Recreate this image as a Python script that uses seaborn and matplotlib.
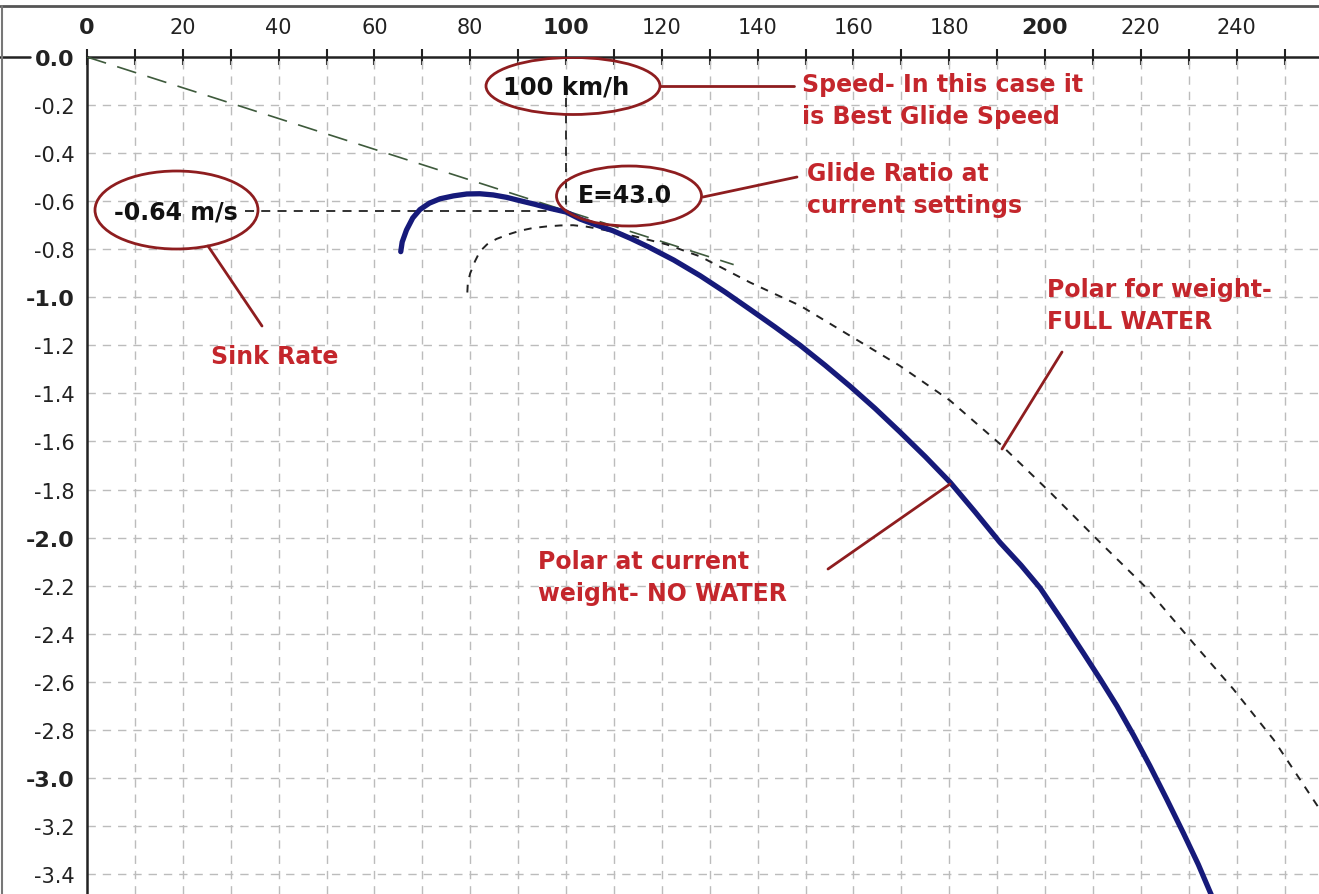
import matplotlib
matplotlib.use("Agg")
import matplotlib.pyplot as plt
from matplotlib.patches import Ellipse
from matplotlib.lines import Line2D
import seaborn as sns

# ---------------- data ----------------
no_water_speed = [65.5, 65.8, 66.7, 68.0, 69.5, 71.5, 73.7, 76.5, 79.3, 82.0, 84.8, 87.6,
                  90.4, 93.5, 96.7, 100.0, 102.9, 106.0, 109.8, 113.5, 117.2, 122.5, 128.0,
                  133.2, 138.4, 143.6, 148.9, 154.1, 159.3, 164.5, 169.7, 175.0, 180.2,
                  185.4, 190.6, 195.0, 199.0, 203.5, 208.0, 211.5, 215.0, 218.5, 221.9,
                  225.4, 228.9, 232.0, 235.0]
no_water_sink = [-0.81, -0.77, -0.72, -0.67, -0.635, -0.608, -0.59, -0.578, -0.57, -0.569,
                 -0.574, -0.584, -0.598, -0.613, -0.63, -0.645, -0.674, -0.697, -0.723,
                 -0.755, -0.79, -0.845, -0.91, -0.978, -1.05, -1.123, -1.20, -1.283, -1.37,
                 -1.462, -1.56, -1.663, -1.77, -1.893, -2.02, -2.115, -2.21, -2.343, -2.48,
                 -2.588, -2.70, -2.823, -2.95, -3.088, -3.23, -3.36, -3.50]

full_water_speed = [79.4, 79.5, 80.0, 81.0, 82.0, 83.5, 85.5, 88.0, 90.4, 93.0, 96.0, 98.8,
                    101.5, 104.3, 107.1, 110.5, 114.1, 121.0, 128.0, 138.4, 148.9, 159.3,
                    169.7, 180.2, 190.6, 201.0, 211.5, 221.2, 231.0, 239.3, 247.7, 258.0]
full_water_sink = [-0.98, -0.94, -0.90, -0.85, -0.81, -0.78, -0.757, -0.738, -0.723, -0.712,
                   -0.705, -0.701, -0.70, -0.706, -0.716, -0.73, -0.745, -0.78, -0.83, -0.938,
                   -1.035, -1.16, -1.285, -1.43, -1.61, -1.81, -2.02, -2.21, -2.44, -2.63,
                   -2.84, -3.15]

glide_line_speed = [0.0, 135.0]
glide_line_sink = [0.0, -0.864]

best_speed = 100.0
best_sink = -0.64
glide_ratio = 43.0

x_ticks = list(range(0, 261, 10))
x_labels = [str(v) if (v % 20 == 0 and v < 260) else "" for v in x_ticks]
y_ticks = [round(-0.2 * i, 1) for i in range(0, 18)]
y_labels = ["0.0"] + ["%.1f" % v for v in y_ticks[1:]]

# ---------------- style ----------------
sns.set_style("white")
plt.rcParams['font.family'] = ['DejaVu Sans']

W, H = 1319, 895
fig = plt.figure(figsize=(W / 100, H / 100), dpi=100)
ax = fig.add_axes([87 / W, 0, (W - 87) / W, (H - 58) / H])

RED_TXT = '#c4262c'
RED_LN = '#8e1d1f'

# curves
sns.lineplot(x=glide_line_speed, y=glide_line_sink, ax=ax, color='#3e5a3c', lw=1.2,
             sort=False, estimator=None, zorder=3)
ax.lines[-1].set_dashes([12, 7])
sns.lineplot(x=full_water_speed, y=full_water_sink, ax=ax, color='#222222', lw=1.4,
             sort=False, estimator=None, zorder=3)
ax.lines[-1].set_dashes([4, 4])
sns.lineplot(x=no_water_speed, y=no_water_sink, ax=ax, color='#161a7a', lw=3.8,
             sort=False, estimator=None, zorder=4)
ax.lines[-1].set_solid_joinstyle('round')
ax.lines[-1].set_solid_capstyle('round')

# crosshair at best glide
ax.plot([33, best_speed], [best_sink, best_sink], color='#222222', lw=1.3,
        dashes=[5, 4], zorder=3)
ax.plot([best_speed, best_speed], [-0.17, best_sink], color='#222222', lw=1.3,
        dashes=[5, 4], zorder=3)

# grid
for v in x_ticks[1:]:
    ax.axvline(v, color='#bcbcbc', lw=1.0, dashes=[6, 5], zorder=1)
for v in y_ticks[1:]:
    ax.axhline(v, color='#bcbcbc', lw=1.0, dashes=[6, 5], zorder=1)

# axes / ticks
ax.xaxis.tick_top()
ax.set_xticks(x_ticks)
ax.set_xticklabels(x_labels)
ax.tick_params(axis='x', direction='inout', length=11, width=1.5, pad=9,
               labelsize=15, colors='#222222')
for lab, v in zip(ax.get_xticklabels(), x_ticks):
    if v in (0, 100, 200):
        lab.set_fontweight('bold')
        lab.set_fontsize(16)

ax.set_yticks(y_ticks)
ax.set_yticklabels(y_labels)
ax.set_yticks([round(-0.1 - 0.2 * i, 1) for i in range(0, 18)], minor=True)
ax.tick_params(axis='y', which='major', direction='out', length=8, width=1.5, pad=1,
               labelsize=15, colors='#222222')
ax.tick_params(axis='y', which='minor', direction='out', length=6, width=1.5)
for lab, v in zip(ax.get_yticklabels(), y_ticks):
    if abs(v - round(v)) < 1e-9:
        lab.set_fontweight('bold')
        lab.set_fontsize(16)

# limits after ticks (set_xticks would otherwise widen them)
ax.set_xlim(0, 257.2)
ax.set_ylim(-3.483, 0)

for s in ('right', 'bottom'):
    ax.spines[s].set_visible(False)
for s in ('top', 'left'):
    ax.spines[s].set_color('#222222')
    ax.spines[s].set_linewidth(1.8)
ax.set_xlabel("")
ax.set_ylabel("")

# figure decorations (window frame + axis line extension)
fig.add_artist(Line2D([0, 30 / W], [1 - 58 / H] * 2, color='#222222', lw=1.8))
fig.add_artist(Line2D([0, 1], [1 - 7 / H] * 2, color='#555555', lw=2.0))
fig.add_artist(Line2D([2 / W, 2 / W], [0, 1 - 7 / H], color='#777777', lw=1.5))

# ---------------- annotations ----------------
def px2d(px, py):
    return (px - 87) / 4.79, -(py - 58) / 240.3

# ellipses
for (cx, cy, w, h) in [(573, 87, 174, 57), (629, 197, 145, 60), (176.5, 211, 163, 78)]:
    x, y = px2d(cx, cy)
    ax.add_patch(Ellipse((x, y), w / 4.79, h / 240.3, fill=False, ec=RED_LN, lw=2.0, zorder=6))

# boxed values
ax.text(*px2d(566, 87), "%d km/h" % best_speed, ha='center', va='center', fontsize=17.5,
        fontweight='bold', color='#111111', zorder=7)
ax.text(*px2d(625, 196), "E=%.1f" % glide_ratio, ha='center', va='center', fontsize=17,
        fontweight='bold', color='#111111', zorder=7)
ax.text(*px2d(176, 212), "%.2f m/s" % best_sink, ha='center', va='center', fontsize=17,
        fontweight='bold', color='#111111', zorder=7)

# connector lines
for (x0, y0, x1, y1) in [(660, 87, 794, 87), (703, 198, 797, 178), (208, 247, 262, 327),
                         (1062, 353, 1002, 450), (828, 570, 950, 485)]:
    a = px2d(x0, y0)
    b = px2d(x1, y1)
    ax.plot([a[0], b[0]], [a[1], b[1]], color=RED_LN, lw=2.0, zorder=6)

# red explanation texts
tkw = dict(fontsize=17, fontweight='bold', color=RED_TXT, va='center', ha='left',
           linespacing=1.38, zorder=7)
ax.text(*px2d(802, 101), "Speed- In this case it\nis Best Glide Speed", **tkw)
ax.text(*px2d(807, 190), "Glide Ratio at\ncurrent settings", **tkw)
ax.text(*px2d(1047, 306), "Polar for weight-\nFULL WATER", **tkw)
ax.text(*px2d(538, 578), "Polar at current\nweight- NO WATER", **tkw)
ax.text(*px2d(275, 357), "Sink Rate", **dict(tkw, ha='center'))

fig.savefig("out.png", dpi=100, facecolor='white')
